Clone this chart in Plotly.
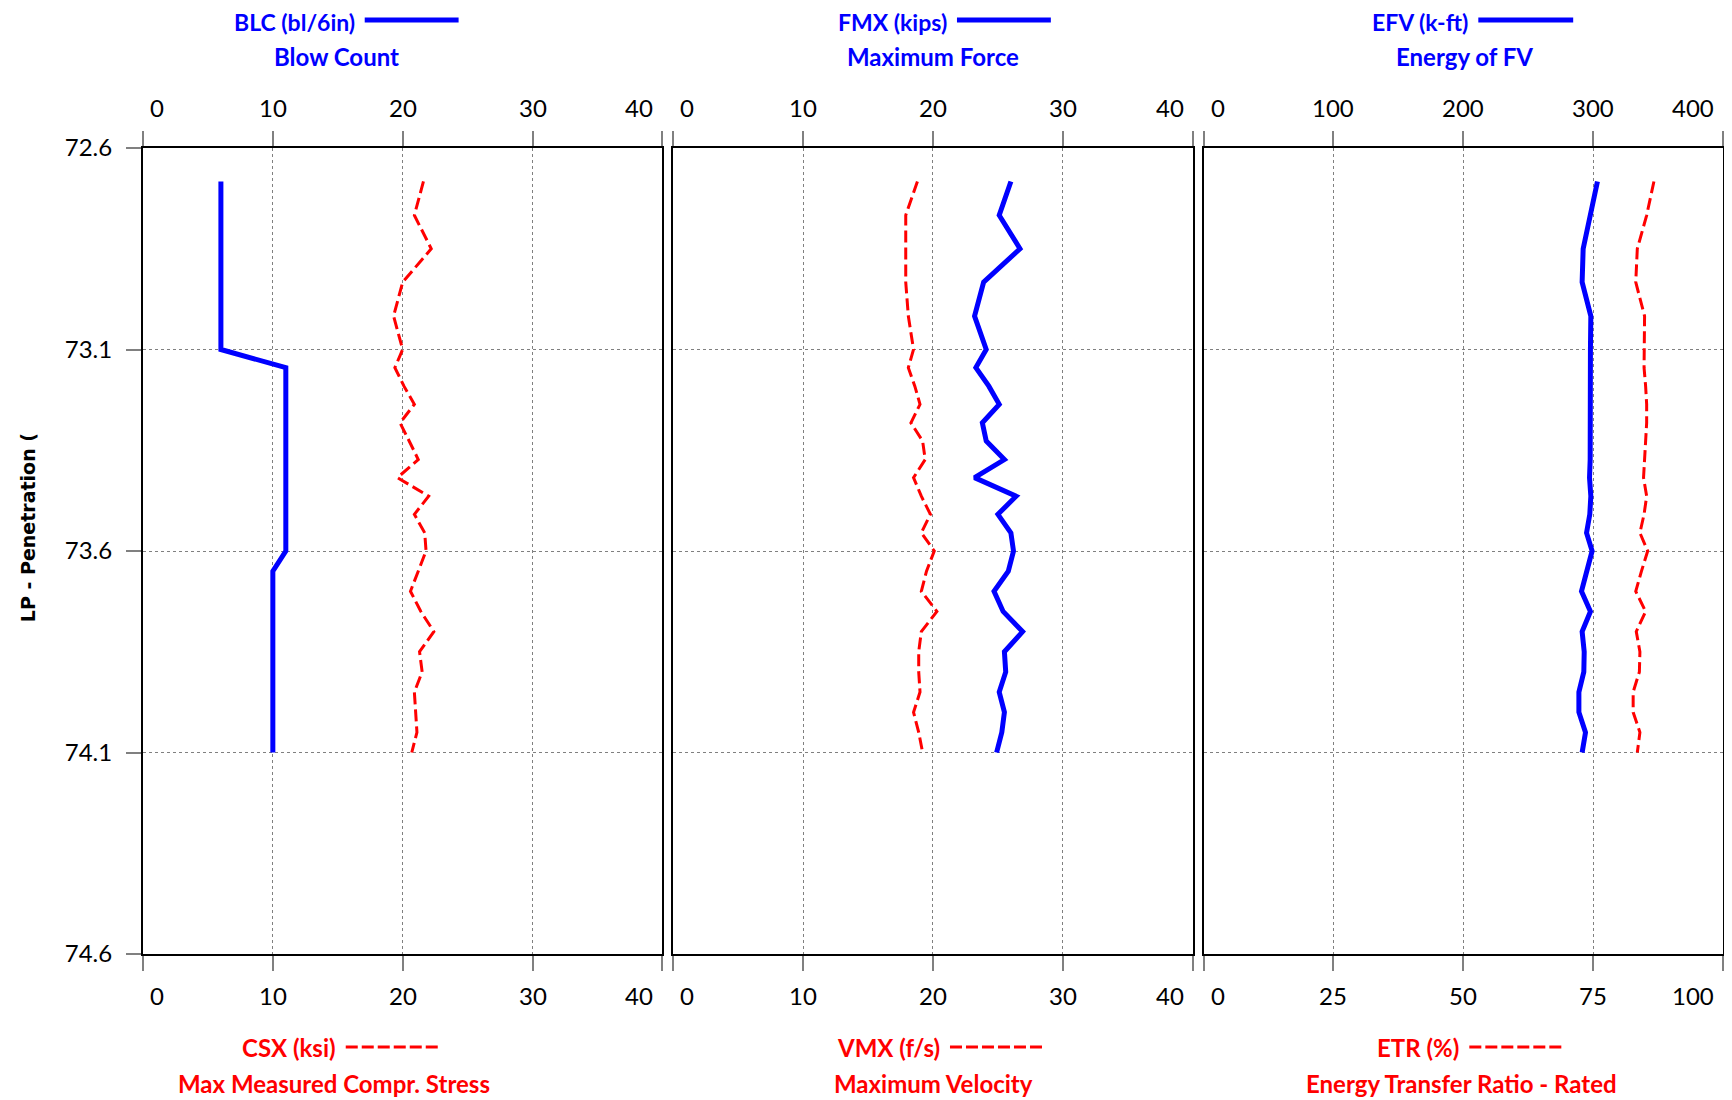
import plotly.graph_objects as go

# ---------------- data ----------------
depth = [72.683, 72.767, 72.850, 72.933, 73.017, 73.100,
         73.145, 73.191, 73.236, 73.282, 73.327, 73.373, 73.418, 73.464, 73.509, 73.555, 73.600,
         73.650, 73.700, 73.750, 73.800, 73.850, 73.900, 73.950, 74.000, 74.050, 74.100]

blc = [6, 6, 6, 6, 6, 6,
       11, 11, 11, 11, 11, 11, 11, 11, 11, 11, 11,
       10, 10, 10, 10, 10, 10, 10, 10, 10, 10]

csx = [21.6, 20.9, 22.2, 20.0, 19.3, 20.0,
       19.4, 20.1, 20.9, 19.8, 20.5, 21.2, 19.6, 22.0, 20.9, 21.7, 21.8,
       21.2, 20.6, 21.4, 22.4, 21.3, 21.5, 20.9, 21.0, 21.1, 20.7]

fmx = [26.0, 25.1, 26.7, 23.9, 23.2, 24.1,
       23.3, 24.3, 25.1, 23.8, 24.1, 25.5, 23.2, 26.4, 25.0, 26.0, 26.2,
       25.8, 24.7, 25.4, 26.9, 25.5, 25.6, 25.1, 25.5, 25.3, 24.9]

vmx = [18.8, 17.9, 17.9, 17.9, 18.1, 18.5,
       18.1, 18.6, 19.0, 18.3, 19.2, 19.4, 18.5, 19.1, 19.8, 19.1, 20.1,
       19.5, 19.1, 20.3, 19.1, 18.9, 18.9, 19.0, 18.5, 18.9, 19.2]

efv = [303.3, 298.2, 292.3, 291.5, 298.2, 297.9,
       297.9, 298.2, 298.5, 298.2, 297.9, 297.7, 297.2, 298.2, 297.4, 294.9, 299.2,
       294.9, 291.0, 297.9, 291.5, 293.1, 292.8, 289.0, 289.0, 294.1, 291.5]

etr = [86.7, 85.3, 83.5, 83.2, 84.9, 84.8,
       84.8, 85.1, 85.3, 85.3, 85.1, 84.8, 84.7, 85.3, 84.8, 84.0, 85.5,
       84.3, 83.2, 85.1, 83.3, 84.0, 83.9, 82.7, 82.7, 84.0, 83.5]

y_ticks = [72.6, 73.1, 73.6, 74.1, 74.6]
y_range = [74.6, 72.6]

top_ticks = [[0, 10, 20, 30, 40], [0, 10, 20, 30, 40], [0, 100, 200, 300, 400]]
bottom_ticks = [[0, 10, 20, 30, 40], [0, 10, 20, 30, 40], [0, 25, 50, 75, 100]]

top_titles = ["BLC (bl/6in)", "FMX (kips)", "EFV (k-ft)"]
top_subtitles = ["Blow Count", "Maximum Force", "Energy of FV"]
bottom_titles = ["CSX (ksi)", "VMX (f/s)", "ETR (%)"]
bottom_subtitles = ["Max Measured Compr. Stress", "Maximum Velocity", "Energy Transfer Ratio - Rated"]
y_title = "LP - Penetration ("

top_series = [blc, fmx, efv]
bottom_series = [csx, vmx, etr]
top_names = ["BLC", "FMX", "EFV"]
bottom_names = ["CSX", "VMX", "ETR"]

# ---------------- layout geometry (pixels) ----------------
OFF = 8  # page body margin
W, H = 1724, 1092
L, R, T, B = 135, 7, 140, 146
PW = W - L - R
PH = H - T - B


def fx(px):  # page pixel -> paper x
    return (px - OFF - L) / PW


def fy(py):  # page pixel -> paper y
    return 1 - (py - OFF - T) / PH


domains = [[0, 520 / PW], [531 / PW, 1051 / PW], [1062 / PW, 1.0]]

BLUE = "#0000FF"
RED = "#FF0000"
GRID = "#808080"
TICK = "#808080"
FONT = "Lato"
TSIZE = 24

fig = go.Figure()
layout = dict(
    width=W, height=H,
    margin=dict(l=L, r=R, t=T, b=B, pad=0),
    paper_bgcolor="white", plot_bgcolor="white",
    showlegend=False,
    font=dict(family=FONT, size=TSIZE, color="black"),
)

annotations = []
shapes = []

for p in range(3):
    bx = "x" if p == 0 else f"x{2 * p + 1}"
    tx = f"x{2 * p + 2}"
    yy = "y" if p == 0 else f"y{p + 1}"
    bkey = "xaxis" if p == 0 else f"xaxis{2 * p + 1}"
    tkey = f"xaxis{2 * p + 2}"
    ykey = "yaxis" if p == 0 else f"yaxis{p + 1}"

    bt = bottom_ticks[p]
    tt = top_ticks[p]

    layout[bkey] = dict(
        domain=domains[p], anchor=yy, side="bottom",
        range=[bt[0], bt[-1]], tickvals=bt, showticklabels=False,
        showline=True, linecolor="black", linewidth=2,
        ticks="outside", ticklen=15, tickcolor=TICK, tickwidth=1.5,
        showgrid=True, gridcolor=GRID, griddash="dot", gridwidth=1.2,
        zeroline=False, fixedrange=True,
    )
    layout[tkey] = dict(
        overlaying=bx, anchor=yy, side="top",
        range=[tt[0], tt[-1]], tickvals=tt, showticklabels=False,
        showline=True, linecolor="black", linewidth=2,
        ticks="outside", ticklen=15, tickcolor=TICK, tickwidth=1.5,
        showgrid=False, zeroline=False, fixedrange=True,
    )
    ydict = dict(
        domain=[0, 1], anchor=bx, range=y_range, tickvals=y_ticks,
        showline=True, mirror=True, linecolor="black", linewidth=2,
        showgrid=True, gridcolor=GRID, griddash="dot", gridwidth=1.2,
        zeroline=False, fixedrange=True,
    )
    if p == 0:
        ydict.update(ticks="outside", ticklen=15, tickcolor=TICK, tickwidth=1.5,
                     showticklabels=True, tickfont=dict(family=FONT, size=TSIZE, color="black"),
                     ticktext=[f"{v:.1f}" for v in y_ticks], ticklabelstandoff=9)
    else:
        ydict.update(ticks="", showticklabels=False, matches="y")
    layout[ykey] = ydict

    # traces
    fig.add_trace(go.Scatter(x=bottom_series[p], y=depth, xaxis=bx, yaxis=yy,
                             mode="lines", name=bottom_names[p],
                             line=dict(color=RED, width=3, dash="12px,5px")))
    fig.add_trace(go.Scatter(x=top_series[p], y=depth, xaxis=tx, yaxis=yy,
                             mode="lines", name=top_names[p],
                             line=dict(color=BLUE, width=5)))

    # x tick labels (edge labels kept inside the panel, as in the reference)
    for ticks, axref, ypos in ((bt, bx, -41), (tt, tx, 41)):
        for i, v in enumerate(ticks):
            if i == 0:
                xa, xs = "left", 5
            elif i == len(ticks) - 1:
                xa, xs = "right", -7
            else:
                xa, xs = "center", 0
            annotations.append(dict(
                x=v, xref=axref, y=(1 if ypos > 0 else 0), yref="paper",
                yshift=ypos, xanchor=xa, xshift=xs, yanchor="middle",
                text=str(v), showarrow=False,
                font=dict(family=FONT, size=TSIZE, color="black")))

# ---------------- titles & legend samples (page pixel positions) ----------------
top_sample = [(365, 459), (958, 1052), (1480, 1575)]
top_sub_center = [337, 934.5, 1466]
bot_sample = [(346, 441), (951, 1046), (1471, 1564)]
bot_sub_center = [334, 934.5, 1463.5]
TOP1_Y = 22

for p in range(3):
    s0, s1 = top_sample[p]
    annotations.append(dict(x=fx(s0 - 9), xref="paper", y=fy(TOP1_Y), yref="paper",
                            xanchor="right", yanchor="middle", showarrow=False, borderpad=0,
                            text=f"<b>{top_titles[p]}</b>",
                            font=dict(family=FONT, size=23, color=BLUE)))
    shapes.append(dict(type="line", xref="paper", yref="paper",
                       x0=fx(s0), x1=fx(s1), y0=fy(20), y1=fy(20),
                       line=dict(color=BLUE, width=5)))
    annotations.append(dict(x=fx(top_sub_center[p]), xref="paper", y=fy(56), yref="paper",
                            xanchor="center", yanchor="middle", showarrow=False,
                            text=f"<b>{top_subtitles[p]}</b>",
                            font=dict(family=FONT, size=TSIZE, color=BLUE)))

    b0, b1 = bot_sample[p]
    annotations.append(dict(x=fx(b0 - 8), xref="paper", y=fy(1047), yref="paper",
                            xanchor="right", yanchor="middle", showarrow=False,
                            text=f"<b>{bottom_titles[p]}</b>",
                            font=dict(family=FONT, size=TSIZE, color=RED)))
    shapes.append(dict(type="line", xref="paper", yref="paper",
                       x0=fx(b0), x1=fx(b1), y0=fy(1047), y1=fy(1047),
                       line=dict(color=RED, width=3, dash="12px,4px")))
    annotations.append(dict(x=fx(bot_sub_center[p]), xref="paper", y=fy(1083), yref="paper",
                            xanchor="center", yanchor="middle", showarrow=False,
                            text=f"<b>{bottom_subtitles[p]}</b>",
                            font=dict(family=FONT, size=TSIZE, color=RED)))

annotations.append(dict(x=fx(28), xref="paper", y=fy(528), yref="paper",
                        xanchor="center", yanchor="middle", showarrow=False,
                        textangle=-90, text=f"<b>{y_title}</b>",
                        font=dict(family="DejaVu Sans", size=19, color="black")))

layout["annotations"] = annotations
layout["shapes"] = shapes
fig.update_layout(**layout)

fig.write_html("out.html")
